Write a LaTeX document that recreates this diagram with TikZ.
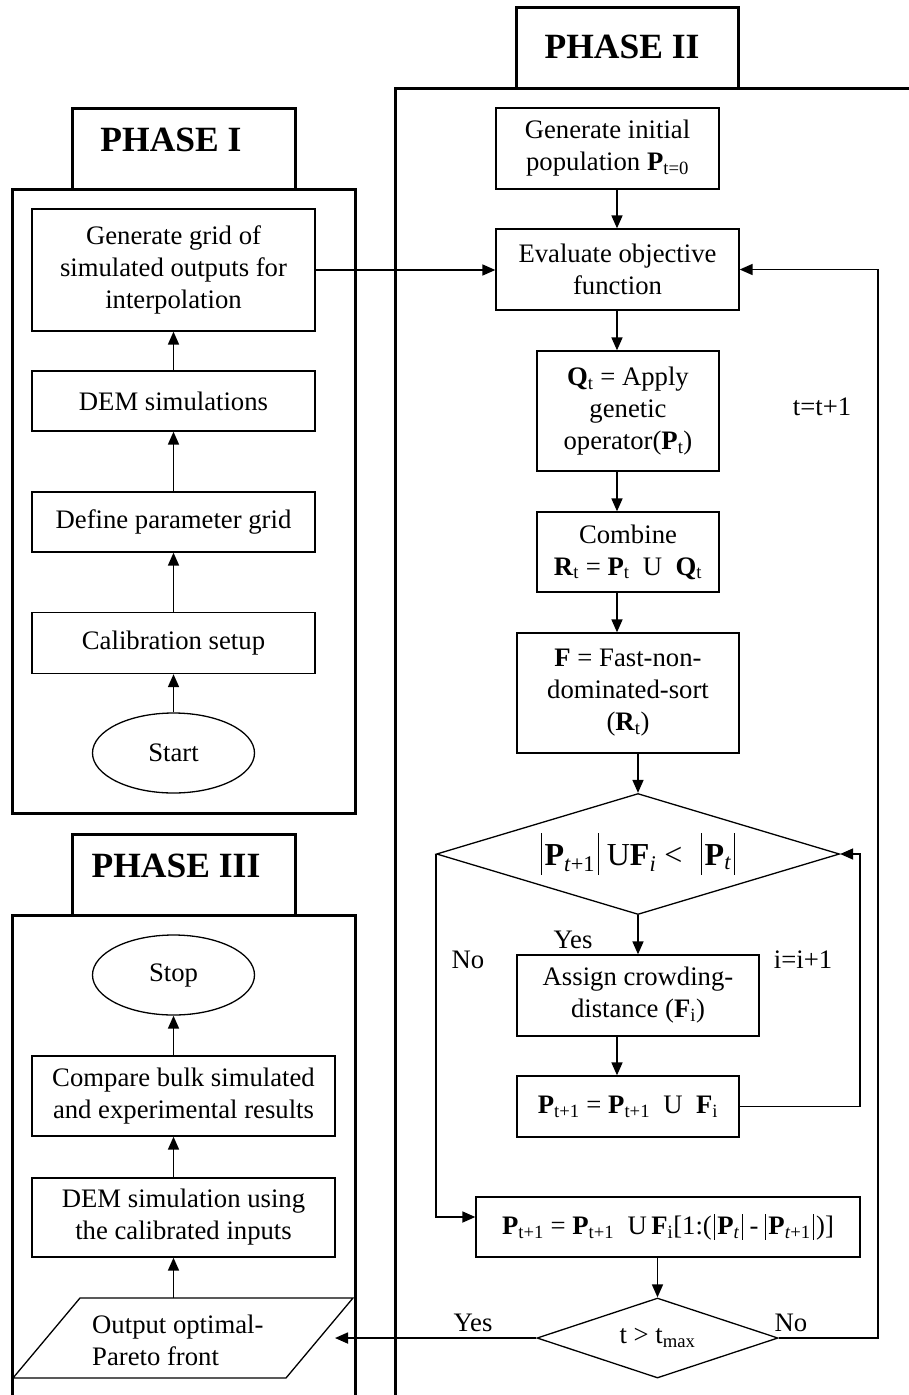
\documentclass[tikz,border=0pt]{standalone}
\usepackage{fontspec}
\setmainfont{Liberation Serif}
\usetikzlibrary{arrows.meta,shapes.geometric,calc}
\newcommand{\bigbar}{\kern0.08em\vrule width 1.3pt height 1.0em depth 0.3em\kern0.08em}
\newcommand{\smbar}{\kern0.08em\vrule width 1.2pt height 0.78em depth 0.2em\kern0.08em}
\begin{document}
\begin{tikzpicture}[x=1pt,y=-1pt,
  phase/.style={draw,line width=3pt},
  hdr/.style={font=\fontsize{35.5}{40}\selectfont\bfseries, inner sep=0pt},
  box/.style={draw,line width=1.3pt,align=center,inner sep=0pt,font=\fontsize{26.7}{32}\selectfont},
  ovalbox/.style={draw,ellipse,line width=1.3pt,inner sep=0pt,minimum width=162pt,minimum height=80pt,font=\fontsize{26.7}{32}\selectfont},
  decision/.style={draw,diamond,line width=1.3pt,inner sep=0pt,font=\fontsize{26.7}{32}\selectfont},
  lbl/.style={inner sep=0pt,font=\fontsize{26.7}{32}\selectfont},
  arr/.style={line width=1.7pt,-{Triangle[length=13pt,width=11pt]}},
]
\useasboundingbox (0,0) rectangle (909,1395);
% phase frames
\draw[phase] (72,108) rectangle (295,189);
\draw[phase] (12,189) rectangle (355,813);
\draw[phase] (72,834) rectangle (295,915);
\draw[phase] (12,1395) -- (12,915) -- (355,915) -- (355,1395);
\draw[phase] (516,7) rectangle (738,88);
\draw[phase] (395,1395) -- (395,88) -- (909,88);
\node[hdr] (h1) at (171,140) {PHASE I};
\node[hdr] (h2) at (622,47) {PHASE II};
\node[hdr] (h3) at (176,866) {PHASE III};
% phase I
\node[box,minimum width=283pt,minimum height=122pt] (gg) at (173.5,270) {Generate grid of\\simulated outputs for\\interpolation};
\node[box,minimum width=283pt,minimum height=60pt] (dem) at (173.5,401) {DEM simulations};
\node[box,minimum width=283pt,minimum height=60pt] (def) at (173.5,522) {Define parameter grid};
\node[box,minimum width=283pt,minimum height=61pt] (cal) at (173.5,643) {Calibration setup};
\node[ovalbox] (start) at (173.5,753) {Start};
\draw[arr] (start.north) -- (cal.south);
\draw[arr] (cal.north) -- (def.south);
\draw[arr] (def.north) -- (dem.south);
\draw[arr] (dem.north) -- (gg.south);
% phase III
\node[ovalbox] (stop) at (173.5,975) {Stop};
\node[box,minimum width=303pt,minimum height=80pt] (cmp) at (183.5,1096) {Compare bulk simulated\\and experimental results};
\node[box,minimum width=303pt,minimum height=79pt] (dsim) at (183.5,1217.5) {DEM simulation using\\the calibrated inputs};
\draw[line width=1.3pt] (13,1378) -- (80,1298) -- (353,1298) -- (286,1378) -- cycle;
\node[lbl,align=left,anchor=west] (para) at (92,1340) {Output optimal-\\Pareto front};
\coordinate (paraN) at (173.5,1298);
\coordinate (paraE) at (335,1338);
\draw[arr] (paraN) -- (dsim.south -| paraN);
\draw[arr] (dsim.north -| stop.south) -- (cmp.south -| stop.south);
\draw[arr] (cmp.north -| stop.south) -- (stop.south);
% phase II
\coordinate (c1) at (617,0);
\coordinate (xi) at (860,0);
\coordinate (xt) at (878,0);
\node[box,minimum width=223pt,minimum height=81pt] (gi) at (607.5,148.5) {Generate initial\\population \textbf{P}\textsubscript{t=0}};
\node[box,minimum width=243pt,minimum height=81pt] (ev) at (617.5,269.5) {Evaluate objective\\function};
\node[box,minimum width=182pt,minimum height=120pt] (q) at (628,411) {\textbf{Q}\textsubscript{t} = Apply\\genetic\\operator(\textbf{P}\textsubscript{t})};
\node[box,minimum width=182pt,minimum height=80pt] (comb) at (628,552) {Combine\\\textbf{R}\textsubscript{t} = \textbf{P}\textsubscript{t}~ U~ \textbf{Q}\textsubscript{t}};
\node[box,minimum width=222pt,minimum height=120pt] (f) at (628,693) {\textbf{F} = Fast-non-\\dominated-sort\\(\textbf{R}\textsubscript{t})};
\node[decision,aspect=3.33,minimum width=403pt,minimum height=121pt,font=\fontsize{32}{36}\selectfont] (d1) at (638,854) {\bigbar\textbf{P}\textsubscript{\textit{t}+1}\bigbar\,U\textbf{F}\textsubscript{\textit{i}} < ~\bigbar\textbf{P}\textsubscript{\textit{t}}\bigbar};
\node[box,minimum width=242pt,minimum height=81pt] (as) at (638,995.5) {Assign crowding-\\distance (\textbf{F}\textsubscript{i})};
\node[box,minimum width=222pt,minimum height=61pt] (pb) at (628,1106.5) {\textbf{P}\textsubscript{t+1} = \textbf{P}\textsubscript{t+1}~ U~ \textbf{F}\textsubscript{i}};
\node[box,minimum width=384pt,minimum height=60pt] (bp) at (668,1227) {\textbf{P}\textsubscript{t+1} = \textbf{P}\textsubscript{t+1}~ U\,\textbf{F}\textsubscript{i}[1:(\smbar\textbf{P}\textsubscript{\textit{t}}\smbar\,-\,\smbar\textbf{P}\textsubscript{\textit{t}+1}\smbar)]};
\node[decision,aspect=3,minimum width=241pt,minimum height=80pt] (d2) at (657.5,1338) {t > t\textsubscript{max}};
\coordinate (bpin) at ([yshift=10pt]bp.west);
\draw[arr] (gi.south -| c1) -- (ev.north -| c1);
\draw[arr] (ev.south -| c1) -- (q.north -| c1);
\draw[arr] (q.south -| c1) -- (comb.north -| c1);
\draw[arr] (comb.south -| c1) -- (f.north -| c1);
\draw[arr] (f.south -| d1.north) -- (d1.north);
\draw[arr] (d1.south) -- (as.north);
\draw[arr] (as.south -| c1) -- (pb.north -| c1);
\draw[arr] (bp.south -| d2.north) -- (d2.north);
\draw[arr] (pb.east) -- (pb.east -| xi) -- (d1.east -| xi) -- (d1.east);
\draw[arr] (d1.west) -- (d1.west |- bpin) -- (bpin);
\draw[arr] (d2.east) -- (d2.east -| xt) -- (ev.east -| xt) -- (ev.east);
\draw[arr] (gg.east) -- (gg.east -| ev.west);
\draw[arr] (d2.west) -- (paraE);
% labels
\node[lbl] (yes1) at (573,940) {Yes};
\node[lbl] (no1) at (468,960) {No};
\node[lbl] (inc) at (803,960) {i=i+1};
\node[lbl] (tinc) at (822,407) {t=t+1};
\node[lbl] (yes2) at (473,1323) {Yes};
\node[lbl] (no2) at (791,1323) {No};
\end{tikzpicture}
\end{document}
